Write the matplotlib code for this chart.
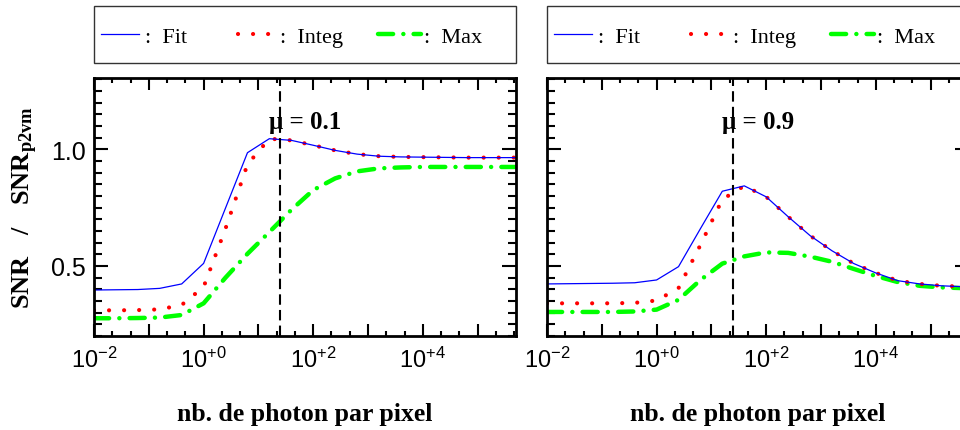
import math
import matplotlib
matplotlib.use("Agg")
import matplotlib.pyplot as plt
from matplotlib.lines import Line2D
from matplotlib.patches import Rectangle
from matplotlib.ticker import FixedLocator, LogLocator, MultipleLocator, FuncFormatter, NullFormatter

# nombre de photons par pixel (grille en pas de 10^0.4)
photons = [0.01, 0.0251, 0.0631, 0.158, 0.398, 1.0, 2.51, 6.31, 15.8, 39.8, 100,
           251, 631, 1585, 3981, 10000, 25119, 63096, 158489, 398107, 1000000]

# mu = 0.1
fit_01 = [0.397, 0.398, 0.399, 0.404, 0.423, 0.511, 0.748, 0.985, 1.045, 1.038, 1.017,
          0.995, 0.979, 0.970, 0.967, 0.966, 0.965, 0.964, 0.964, 0.964, 0.964]
integ_01 = [0.310, 0.310, 0.311, 0.314, 0.333, 0.410, 0.660, 0.935, 1.045, 1.038, 1.017,
            0.995, 0.979, 0.970, 0.967, 0.966, 0.965, 0.964, 0.964, 0.964, 0.964]
max_01 = [0.276, 0.276, 0.277, 0.279, 0.290, 0.340, 0.450, 0.552, 0.645, 0.740, 0.825,
          0.875, 0.905, 0.918, 0.922, 0.924, 0.924, 0.924, 0.924, 0.924, 0.924]

# mu = 0.9
fit_09 = [0.423, 0.424, 0.425, 0.426, 0.428, 0.440, 0.497, 0.660, 0.820, 0.843, 0.796,
          0.711, 0.630, 0.565, 0.510, 0.470, 0.437, 0.423, 0.415, 0.411, 0.410]
integ_09 = [0.340, 0.340, 0.340, 0.340, 0.342, 0.352, 0.405, 0.590, 0.785, 0.843, 0.796,
            0.711, 0.630, 0.565, 0.510, 0.470, 0.437, 0.423, 0.415, 0.411, 0.410]
max_09 = [0.303, 0.303, 0.303, 0.303, 0.305, 0.313, 0.355, 0.440, 0.510, 0.541, 0.558,
          0.556, 0.540, 0.518, 0.487, 0.457, 0.431, 0.415, 0.408, 0.405, 0.404]

mus = ["0.1", "0.9"]
seuil = 25.1   # ligne verticale pointillee
noms = ['Fit', 'Integ', 'Max']

plt.rcParams['mathtext.fontset'] = 'custom'
plt.rcParams['mathtext.rm'] = 'Liberation Sans'
plt.rcParams['mathtext.it'] = 'Liberation Sans:italic'
plt.rcParams['mathtext.bf'] = 'Liberation Serif:bold'
plt.rcParams['font.family'] = 'Liberation Sans'

BLEU = (0, 0, 1)
ROUGE = (1, 0, 0)
VERT = (0, 1, 0)
st_fit = dict(color=BLEU, lw=0.9)
st_integ = dict(color=ROUGE, lw=3.0, linestyle=(0, (0.01, 3.6)), dash_capstyle='round')
st_max = dict(color=VERT, lw=3.2, linestyle=(0, (3.4, 2.3, 0.01, 2.3)), dash_capstyle='round')
styles = [st_fit, st_integ, st_max]

W, H = 960, 431
fig = plt.figure(figsize=(W / 100, H / 100), dpi=100)

def fx(p):
    return p / W

def fy(p):
    return 1 - p / H

ax_l, ax_r = 94, 547
ax_w = 422
top, bot = 79, 337

panneaux = [(fit_01, integ_01, max_01), (fit_09, integ_09, max_09)]

def fmt_x(v, pos):
    n = int(round(math.log10(v)))
    if n % 2 == 0:
        return r'$10^{%+d}$' % n if n != 0 else r'$10^{+0}$'
    return ''

for i, (left, (fit, integ, mx)) in enumerate(zip([ax_l, ax_r], panneaux)):
    ax = fig.add_axes([fx(left), fy(bot), fx(ax_w), (bot - top) / H])
    ax.plot(photons, mx, **st_max)
    ax.plot(photons, integ, **st_integ)
    ax.plot(photons, fit, **st_fit)
    ax.axvline(seuil, color='black', lw=1.5, linestyle=(0, (5, 2.5)))
    ax.set_xscale('log')
    ax.set_xlim(1e-2, 10 ** 5.7)
    ax.set_ylim(0.2, 1.305)

    ax.xaxis.set_major_locator(FixedLocator([10.0 ** k for k in range(-2, 7)]))
    ax.xaxis.set_major_formatter(FuncFormatter(fmt_x))
    ax.xaxis.set_minor_locator(LogLocator(base=10, subs=[10 ** (1 / 3), 10 ** (2 / 3)], numticks=30))
    ax.xaxis.set_minor_formatter(NullFormatter())
    ax.yaxis.set_major_locator(MultipleLocator(0.5))
    ax.yaxis.set_minor_locator(MultipleLocator(0.05))
    ax.yaxis.set_major_formatter(FuncFormatter(lambda v, p: '%.1f' % v))

    ax.tick_params(which='both', direction='in', top=True, right=True, width=1.5, labelsize=17)
    ax.tick_params(axis='x', which='major', length=8.6, pad=7.5)
    ax.tick_params(axis='x', which='minor', length=3.6)
    ax.tick_params(axis='y', which='major', length=10, pad=6, labelsize=18)
    ax.tick_params(axis='y', which='minor', length=5.8)
    for s in ax.spines.values():
        s.set_linewidth(2.0)

    if i == 1:
        ax.tick_params(labelleft=False)
    else:
        ax.set_ylabel(r'$\mathbf{SNR\ \ \ /\ \ \ SNR_{p2vm}}$', fontsize=19)
        ax.yaxis.set_label_coords(-0.129, 0.5)

    ax.set_xlabel('nb. de photon par pixel', fontsize=18.5, fontweight='bold',
                  family='Liberation Serif')
    ax.xaxis.set_label_coords(0.5, -0.255)

    ax.text(10 ** 1.85, 1.12, 'μ = ' + mus[i], fontsize=18, fontweight='bold',
            family='Liberation Serif', ha='center', va='center')

    # cadre de legende au-dessus du panneau
    fig.patches.append(Rectangle((fx(left), fy(64)), fx(ax_w), 57 / H, transform=fig.transFigure,
                                 fill=False, edgecolor='0.2', lw=1.0))
    debuts = [left + 7, left + 144, left + 284]
    longueurs = [1.7, 1.6, 1.95]
    ecarts = [0.3, 0.3, 0.12]
    for nom, st, x0, hl, hp in zip(noms, styles, debuts, longueurs, ecarts):
        fig.legend([Line2D([], [], **st)], [':  ' + nom], loc='center left',
                   bbox_to_anchor=(fx(x0), fy(37.5)), frameon=False,
                   prop={'family': 'Liberation Serif', 'size': 16},
                   handlelength=hl, handletextpad=hp, borderpad=0, borderaxespad=0)

fig.savefig('out.png', dpi=100)
